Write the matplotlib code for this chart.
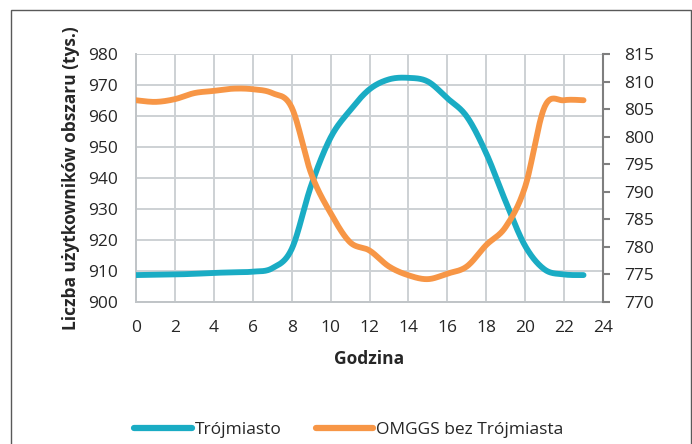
import numpy as np
import matplotlib
matplotlib.use('Agg')
import matplotlib.pyplot as plt
from matplotlib.patches import Rectangle

# hourly values
hours = list(range(24))
trojmiasto = [908.6, 908.7, 908.8, 909.0, 909.3, 909.5, 909.7, 910.8,
              917.0, 937.5, 953.0, 961.8, 968.6, 971.8, 972.3, 971.1,
              965.7, 959.8, 947.9, 932.3, 918.0, 910.4, 908.8, 908.6]
omggs = [806.6, 806.3, 806.8, 807.9, 808.3, 808.7, 808.6, 807.9,
         805.3, 793.3, 786.1, 780.8, 779.3, 776.4, 774.8, 774.1,
         775.1, 776.4, 780.3, 783.6, 790.9, 805.4, 806.6, 806.6]

left_ticks = list(range(900, 981, 10))
right_ticks = list(range(770, 816, 5))
x_ticks = list(range(0, 25, 2))

TEAL = '#1aacc4'
ORANGE = '#f79646'
FONT = 'Open Sans'
FS = 12.5


def smooth(x, y, n=24):
    """Excel-like smoothed line: cubic bezier between neighbouring points."""
    x = np.asarray(x, float)
    y = np.asarray(y, float)
    xp = np.concatenate([[x[0]], x, [x[-1]]])
    yp = np.concatenate([[y[0]], y, [y[-1]]])
    t = np.linspace(0, 1, n)[:, None]
    out = []
    for i in range(len(x) - 1):
        p0 = np.array([xp[i], yp[i]])
        p1 = np.array([x[i], y[i]])
        p2 = np.array([x[i + 1], y[i + 1]])
        p3 = np.array([xp[i + 3], yp[i + 3]])
        c1 = p1 + (p2 - p0) / 6
        c2 = p2 - (p3 - p1) / 6
        seg = ((1 - t) ** 3 * p1 + 3 * (1 - t) ** 2 * t * c1
               + 3 * (1 - t) * t ** 2 * c2 + t ** 3 * p2)
        out.append(seg if i == 0 else seg[1:])
    pts = np.vstack(out)
    return pts[:, 0], pts[:, 1]


plt.rcParams['font.family'] = [FONT, 'DejaVu Sans']

fig = plt.figure(figsize=(6.92, 4.44), dpi=100)
fig.add_artist(Rectangle((11 / 692, -0.05), 679.5 / 692, 0.9775 + 0.05,
                         transform=fig.transFigure, fill=False,
                         ec='#595959', lw=1.0))

ax = fig.add_axes([136 / 692, 1 - 301.7 / 444, 467 / 692, 247.7 / 444])
ax2 = ax.twinx()

sx, sy = smooth(hours, trojmiasto)
l1, = ax.plot(sx, sy, color=TEAL, lw=4.2, solid_capstyle='round',
              label='Trójmiasto', zorder=3)
sx, sy = smooth(hours, omggs)
l2, = ax2.plot(sx, sy, color=ORANGE, lw=4.2, solid_capstyle='round',
               label='OMGGS bez Trójmiasta', zorder=3)

ax.set_xlim(0, 24)
ax.set_ylim(900, 980)
ax2.set_ylim(770, 815)
ax.set_xticks(x_ticks)
ax.set_yticks(left_ticks)
ax2.set_yticks(right_ticks)

ax.grid(True, color='#cdd1d4', lw=1.4)
ax.set_axisbelow(True)
for s in ['top', 'right']:
    ax.spines[s].set_visible(False)
for s in ['left', 'bottom']:
    ax.spines[s].set_color('#c0c4c7')
    ax.spines[s].set_linewidth(1.4)
for s in ['top', 'left', 'bottom']:
    ax2.spines[s].set_visible(False)
ax2.spines['right'].set_color('#7f7f7f')
ax2.spines['right'].set_linewidth(1.5)

ax.tick_params(axis='both', length=0, labelsize=FS, colors='#262626')
ax.tick_params(axis='y', pad=13)
ax.tick_params(axis='x', pad=13)
ax2.tick_params(axis='y', length=5, width=1.5, color='#7f7f7f',
                labelsize=FS, labelcolor='#262626', pad=10)

ax.set_xlabel('Godzina', fontsize=FS, fontweight='bold', color='#262626',
              labelpad=10)
ax.set_ylabel('Liczba użytkowników obszaru (tys.)', fontsize=FS,
              fontweight='bold', color='#262626', labelpad=6)

leg = fig.legend([l1, l2], ['Trójmiasto', 'OMGGS bez Trójmiasta'],
                 loc='center', bbox_to_anchor=(349 / 692, 1 - 430 / 444),
                 ncol=2, frameon=False, fontsize=FS, handlelength=3.3,
                 handletextpad=0.17, columnspacing=2.0)
for line in leg.get_lines():
    line.set_linewidth(4.5)
for txt in leg.get_texts():
    txt.set_color('#262626')

fig.savefig('out.png', dpi=100)
